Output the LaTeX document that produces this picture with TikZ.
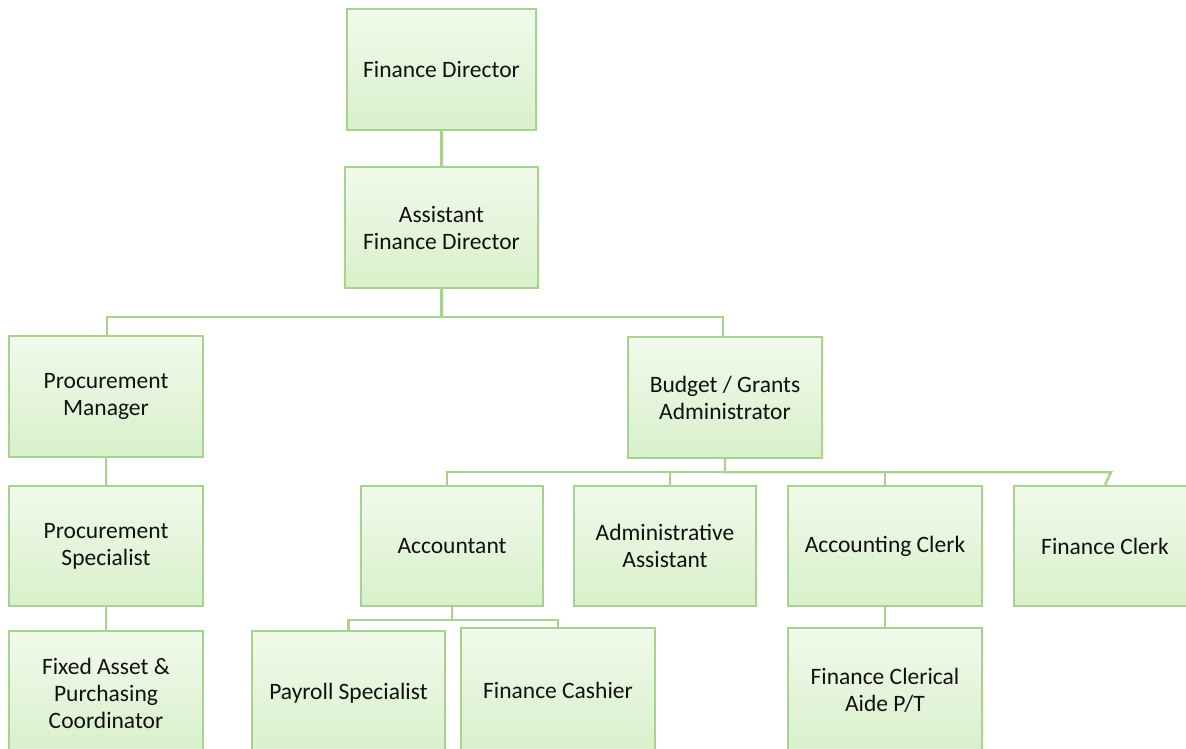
\documentclass[tikz,border=0pt]{standalone}
\usepackage{fontspec}
\setmainfont{Carlito}
\begin{document}
\begin{tikzpicture}[x=1pt,y=-1pt,
  orgbox/.style={draw=boxline, line width=2.4pt, top color=boxtop, bottom color=boxbottom,
    rectangle, inner sep=0pt, align=center, text=boxtext,
    font=\fontsize{23.5}{27}\selectfont},
  link/.style={draw=boxline, line width=2.4pt}]
\definecolor{boxline}{HTML}{A6D48C}
\definecolor{boxtop}{HTML}{F1FAEC}
\definecolor{boxbottom}{HTML}{D8F0CA}
\definecolor{boxtext}{HTML}{111111}
\useasboundingbox (0,0) rectangle (1186,748);
\clip (0,0) rectangle (1186,748);

% top of the chart
\node[orgbox, minimum width=189pt, minimum height=121pt] (fd) at (441.5,69.5) {Finance Director};
\node[orgbox, minimum width=193pt, minimum height=121pt] (afd) at (441.5,227.5) {Assistant\\Finance Director};

% second level
\node[orgbox, minimum width=194pt, minimum height=121pt] (pm) at (106,396.5) {Procurement\\Manager};
\node[orgbox, minimum width=194pt, minimum height=121pt] (bga) at (725,397.5) {Budget / Grants\\Administrator};

% procurement column
\node[orgbox, minimum width=194pt, minimum height=120pt] (psp) at (106,546) {Procurement\\Specialist};
\node[orgbox, minimum width=194pt, minimum height=124pt] (fa) at (106,693) {Fixed Asset \&\\Purchasing\\Coordinator};

% budget staff
\node[orgbox, minimum width=182pt, minimum height=120pt] (acc) at (452,546) {Accountant};
\node[orgbox, minimum width=182pt, minimum height=120pt] (aa) at (665,546) {Administrative\\Assistant};
\node[orgbox, minimum width=194pt, minimum height=120pt] (ac) at (885,546) {Accounting Clerk};
\node[orgbox, minimum width=182pt, minimum height=120pt] (fc) at (1105,546) {Finance Clerk};

% bottom row
\node[orgbox, minimum width=193pt, minimum height=124pt] (pay) at (348.5,693) {Payroll Specialist};
\node[orgbox, minimum width=194pt, minimum height=124pt] (cash) at (558,690) {Finance Cashier};
\node[orgbox, minimum width=194pt, minimum height=124pt] (fca) at (885,690) {Finance Clerical\\Aide P/T};

% connectors
\coordinate (fcx) at (1111,471);
\draw[link] (fd.south) -- (afd.north);
\draw[link] (afd.south) -- ++(0,28) -| ([xshift=1pt]pm.north);
\draw[link] (afd.south) -- ++(0,28) -| ([xshift=-2pt]bga.north);
\draw[link] (pm.south) -- (psp.north);
\draw[link] (psp.south) -- (fa.north);
\draw[link] (bga.south) -- ++(0,13) -| ([xshift=-5pt]acc.north);
\draw[link] (bga.south) -- ++(0,13) -| ([xshift=5pt]aa.north);
\draw[link] (bga.south) -- ++(0,13) -| (ac.north);
\draw[link] (bga.south) -- ++(0,13) coordinate (bgabus) -- (bgabus -| fcx) -- (fc.north);
\draw[link] (acc.south) -- ++(0,13) -| (pay.north);
\draw[link] (acc.south) -- ++(0,13) -| (cash.north);
\draw[link] (ac.south) -- (fca.north);
\end{tikzpicture}
\end{document}
